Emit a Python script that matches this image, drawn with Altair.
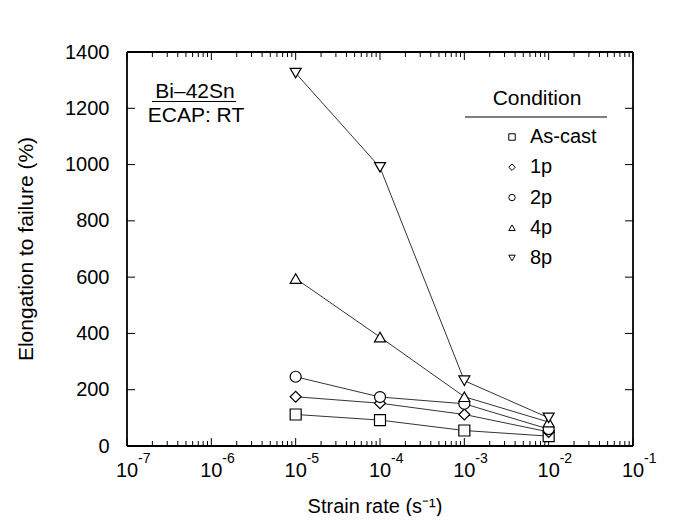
import altair as alt
import pandas as pd

# ---- data ----
rates = [1e-5, 1e-4, 1e-3, 1e-2]
conditions = ["As-cast", "1p", "2p", "4p", "8p"]
shapes = ["square", "diamond", "circle", "triangle-up", "triangle-down"]
as_cast = [112, 92, 55, 35]
p1 = [175, 152, 112, 50]
p2 = [246, 174, 150, 60]
p4 = [595, 387, 175, 85]
p8 = [1325, 990, 232, 100]

series = {"As-cast": as_cast, "1p": p1, "2p": p2, "4p": p4, "8p": p8}
rows = []
for c in conditions:
    for r, v in zip(rates, series[c]):
        rows.append({"rate": r, "elong": v, "cond": c})
df = pd.DataFrame(rows)
leg_df = pd.DataFrame({"cond": conditions})

# axis ticks / labels
x_major = [1e-7, 1e-6, 1e-5, 1e-4, 1e-3, 1e-2, 1e-1]
x_exp = ["-7", "-6", "-5", "-4", "-3", "-2", "-1"]
x_minor = [k * 10.0 ** e for e in range(-7, -1) for k in range(2, 10)]
y_major = [0, 200, 400, 600, 800, 1000, 1200, 1400]

W, H = 506, 394
FONT = "Liberation Sans"

xs = alt.Scale(type="log", domain=[1e-7, 1e-1], nice=False)
ys = alt.Scale(domain=[0, 1400], nice=False)
yaxis = alt.Axis(values=y_major, ticks=False, domain=False, grid=False, format="d",
                 labelFontSize=20, labelPadding=18, labelColor="black",
                 labelFont=FONT, title=None)
shape_scale = alt.Scale(domain=conditions, range=shapes)

X = lambda f: alt.X(f, scale=xs, axis=None)
Yn = lambda f: alt.Y(f, scale=ys, axis=None)

lines = alt.Chart(df).mark_line(color="#333", strokeWidth=1).encode(
    x=X("rate:Q"), y=alt.Y("elong:Q", scale=ys, axis=yaxis), detail="cond:N")

points = alt.Chart(df).mark_point(
    color="black", fill="white", fillOpacity=1, strokeWidth=1.2, size=121, opacity=1
).encode(
    x=X("rate:Q"), y=Yn("elong:Q"),
    shape=alt.Shape("cond:N", scale=shape_scale, legend=None))

# legend drawn as marks
leg_y = alt.Y("cond:N", scale=alt.Scale(type="point", domain=conditions, range=[85, 206], padding=0),
              axis=None)
leg_sym = alt.Chart(leg_df).mark_point(
    color="black", fill="white", fillOpacity=1, strokeWidth=1, size=42, opacity=1
).encode(x=alt.value(385), y=leg_y, shape=alt.Shape("cond:N", scale=shape_scale, legend=None))
leg_txt = alt.Chart(leg_df).mark_text(fontSize=20, font=FONT, align="left", baseline="middle",
                                      color="black").encode(
    x=alt.value(403), y=leg_y, text="cond:N")

xmaj_df = pd.DataFrame({"v": x_major, "exp": x_exp})
xmin_df = pd.DataFrame({"v": x_minor})
ymaj_df = pd.DataFrame({"v": y_major})

tick_col = "black"
bx_maj = alt.Chart(xmaj_df).mark_rule(color=tick_col, strokeWidth=1).encode(
    x=X("v:Q"), y=alt.value(H), y2=alt.value(H - 8))
bx_min = alt.Chart(xmin_df).mark_rule(color=tick_col, strokeWidth=1).encode(
    x=X("v:Q"), y=alt.value(H), y2=alt.value(H - 5))
tx_maj = alt.Chart(xmaj_df).mark_rule(color=tick_col, strokeWidth=1).encode(
    x=X("v:Q"), y=alt.value(0), y2=alt.value(8))
tx_min = alt.Chart(xmin_df).mark_rule(color=tick_col, strokeWidth=1).encode(
    x=X("v:Q"), y=alt.value(0), y2=alt.value(5))
ly = alt.Chart(ymaj_df).mark_rule(color=tick_col, strokeWidth=1).encode(
    y=Yn("v:Q"), x=alt.value(0), x2=alt.value(8))
ry = alt.Chart(ymaj_df).mark_rule(color=tick_col, strokeWidth=1).encode(
    y=Yn("v:Q"), x=alt.value(W), x2=alt.value(W - 8))

one = xmaj_df.head(1)
FW = 1.8
frame = [
    alt.Chart(one).mark_rule(color="black", strokeWidth=FW).encode(
        x=alt.value(0), x2=alt.value(W), y=alt.value(0)),
    alt.Chart(one).mark_rule(color="black", strokeWidth=FW).encode(
        x=alt.value(0), x2=alt.value(W), y=alt.value(H)),
    alt.Chart(one).mark_rule(color="black", strokeWidth=FW).encode(
        x=alt.value(0), y=alt.value(0), y2=alt.value(H)),
    alt.Chart(one).mark_rule(color="black", strokeWidth=FW).encode(
        x=alt.value(W), y=alt.value(0), y2=alt.value(H)),
]

lab10 = alt.Chart(xmaj_df).mark_text(text="10", fontSize=20, font=FONT, align="center",
                                     baseline="alphabetic", color="black").encode(
    x=X("v:Q"), y=alt.value(H + 31))
labexp = alt.Chart(xmaj_df).mark_text(fontSize=14, font=FONT, align="left", dx=11,
                                      baseline="alphabetic", color="black").encode(
    x=X("v:Q"), y=alt.value(H + 17), text="exp:N")

xtitle = alt.Chart(one).mark_text(text="Strain rate (s⁻¹)", fontSize=20, font=FONT,
                                  align="center", baseline="alphabetic",
                                  color="black").encode(
    x=alt.value(248), y=alt.value(461))
ytitle = alt.Chart(one).mark_text(text="Elongation to failure (%)", fontSize=21,
                                  font=FONT, align="center", baseline="middle",
                                  angle=270, color="black").encode(
    x=alt.value(-100), y=alt.value(197))

ann1 = alt.Chart(one).mark_text(text="Bi–42Sn", fontSize=21, font=FONT,
                                align="center", baseline="alphabetic",
                                color="black").encode(
    x=alt.value(68), y=alt.value(46))
ann_line = alt.Chart(one).mark_rule(color="black", strokeWidth=1).encode(
    x=alt.value(25), x2=alt.value(109), y=alt.value(49.5))
ann2 = alt.Chart(one).mark_text(text="ECAP: RT", fontSize=21, font=FONT,
                                align="center", baseline="alphabetic",
                                color="black").encode(
    x=alt.value(69), y=alt.value(70))

leg_title = alt.Chart(one).mark_text(text="Condition", fontSize=21, font=FONT,
                                     align="center", baseline="alphabetic",
                                     color="black").encode(
    x=alt.value(410), y=alt.value(53))
leg_line = alt.Chart(one).mark_rule(color="black", strokeWidth=1.2).encode(
    x=alt.value(338), x2=alt.value(480), y=alt.value(65))

chart = alt.layer(
    bx_maj, bx_min, tx_maj, tx_min, ly, ry, *frame,
    lines, points, lab10, labexp, xtitle, ytitle,
    ann1, ann_line, ann2, leg_title, leg_line, leg_sym, leg_txt
).resolve_scale(y="independent").properties(
    width=W, height=H,
    autosize=alt.AutoSizeParams(type="none"),
    padding={"left": 119, "top": 44, "right": 30, "bottom": 70},
    background="white"
).configure(font=FONT).configure_view(
    strokeOpacity=0
)

chart.save("out.html", embed_options={"renderer": "svg", "actions": False})
